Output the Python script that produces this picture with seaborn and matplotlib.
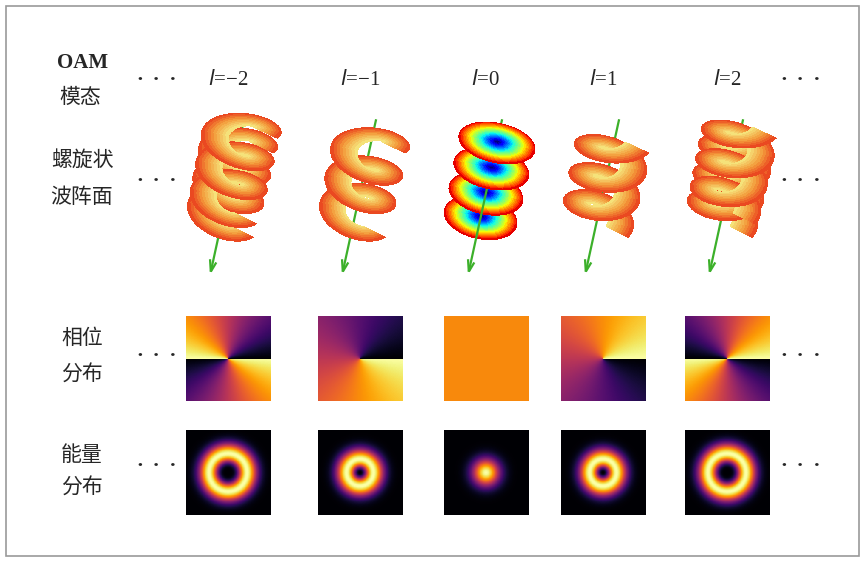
import numpy as np
import matplotlib
matplotlib.use("Agg")
import matplotlib.pyplot as plt
import seaborn as sns
from matplotlib.patches import Rectangle
from matplotlib.colors import LinearSegmentedColormap

sns.set_style("white")
plt.rcParams['font.family'] = ['Noto Sans CJK SC', 'DejaVu Sans']

# data
modes = [-2, -1, 0, 1, 2]
mode_labels = ["−2", "−1", "0", "1", "2"]
col_centers = [228, 360, 486, 603, 727]   # pixel centres of columns
map_size = 85

W, H = 865, 562
fig = plt.figure(figsize=(W / 100, H / 100), dpi=100)


def px_axes(x0, y0, w, h, **kw):
    return fig.add_axes([x0 / W, 1 - (y0 + h) / H, w / W, h / H], **kw)


fig.patches.append(Rectangle((6 / W, 6 / H), 853 / W, 550 / H, transform=fig.transFigure,
                             fill=False, edgecolor="#9a9a9a", linewidth=1.2))


# left labels
def ftxt(x, y, s, size=15, **kw):
    fig.text(x / W, 1 - y / H, s, ha="center", va="center", fontsize=size, **kw)


ftxt(83, 63, "OAM", fontweight="bold", family=["Liberation Serif"])
ftxt(80, 97, "模态")
ftxt(82, 160, "螺旋状")
ftxt(82, 197, "波阵面")
ftxt(82, 338, "相位")
ftxt(82, 375, "分布")
ftxt(82, 455, "能量")
ftxt(82, 488, "分布")
for y in [80, 180, 355, 465]:
    ftxt(157, y, "···", size=12)
for y in [80, 180, 355, 465]:
    ftxt(800, y, "···", size=12)

for cx, lab in zip(col_centers, mode_labels):
    fig.text(cx / W, 1 - 80 / H, r"$\it{l}$=" + lab, ha="center", va="center",
             fontsize=15, family=["Liberation Serif"])

# grids
n = 200
xs = np.linspace(-1, 1, n)
X, Y = np.meshgrid(xs, -xs)
R = np.sqrt(X ** 2 + Y ** 2)
PHI = np.arctan2(Y, X)

for cx, l in zip(col_centers, modes):
    # phase
    ax = px_axes(cx - map_size / 2, 316, map_size, map_size)
    if l == 0:
        phase = np.full_like(X, 0.74)
    else:
        phase = np.mod(-l * PHI, 2 * np.pi) / (2 * np.pi)
    sns.heatmap(phase, ax=ax, cmap="inferno", vmin=0, vmax=1, cbar=False,
                xticklabels=False, yticklabels=False, rasterized=True)
    ax.set_axis_off()
    # intensity
    ax = px_axes(cx - map_size / 2, 430, map_size, map_size)
    w0 = 0.45
    inten = (R / w0) ** (2 * abs(l)) * np.exp(-2 * R ** 2 / w0 ** 2)
    inten = inten / inten.max()
    sns.heatmap(inten, ax=ax, cmap="inferno", vmin=0, vmax=1, cbar=False,
                xticklabels=False, yticklabels=False, rasterized=True)
    ax.set_axis_off()

# helical wavefronts
helix_cmap = LinearSegmentedColormap.from_list("hx", ["#f5e27a", "#f39a3a", "#e8321a"])
tilt = np.deg2rad(12)


def rot(x, y, z):
    return x * np.cos(tilt) + z * np.sin(tilt), y, -x * np.sin(tilt) + z * np.cos(tilt)


for cx, l in zip(col_centers, modes):
    ax = px_axes(cx - 100, 90, 200, 220, projection="3d")
    ax.set_axis_off()
    ax.patch.set_alpha(0)
    ax.view_init(elev=28, azim=-60)
    if l == 0:
        r = np.linspace(0, 1, 25)
        t = np.linspace(0, 2 * np.pi, 60)
        Rr, T = np.meshgrid(r, t)
        for zc in [1.2, 0.4, -0.4, -1.2]:
            x, y, z = rot(Rr * np.cos(T), Rr * np.sin(T), np.full_like(Rr, zc))
            ax.plot_surface(x, y, z, facecolors=plt.cm.jet(Rr * 0.95), linewidth=0,
                            antialiased=False, shade=False)
    else:
        r = np.linspace(0.3, 1, 10)
        t = np.linspace(0, 6 * np.pi, 240)
        Rr, T = np.meshgrid(r, t)
        for k in range(abs(l)):
            zz = np.sign(l) * T / (2 * np.pi) * 0.9 - np.sign(l) * 2.7 / 2 + k * 0.9 / abs(l)
            x, y, z = rot(Rr * np.cos(T), Rr * np.sin(T), zz)
            ax.plot_surface(x, y, z, facecolors=helix_cmap((Rr - 0.3) / 0.7), linewidth=0,
                            antialiased=False, shade=False)
    x0, y0, z0 = rot(0, 0, 1.9)
    x1, y1, z1 = rot(0, 0, -3.1)
    ax.quiver(x0, y0, z0, x1 - x0, y1 - y0, z1 - z0, color="#3cb02a",
              arrow_length_ratio=0.08, linewidth=1.6)
    ax.set_xlim(-1.8, 1.8)
    ax.set_ylim(-1.8, 1.8)
    ax.set_zlim(-3.2, 2.2)
    ax.set_box_aspect((1, 1, 1.5), zoom=1.35)

fig.savefig("out.png", dpi=100)
